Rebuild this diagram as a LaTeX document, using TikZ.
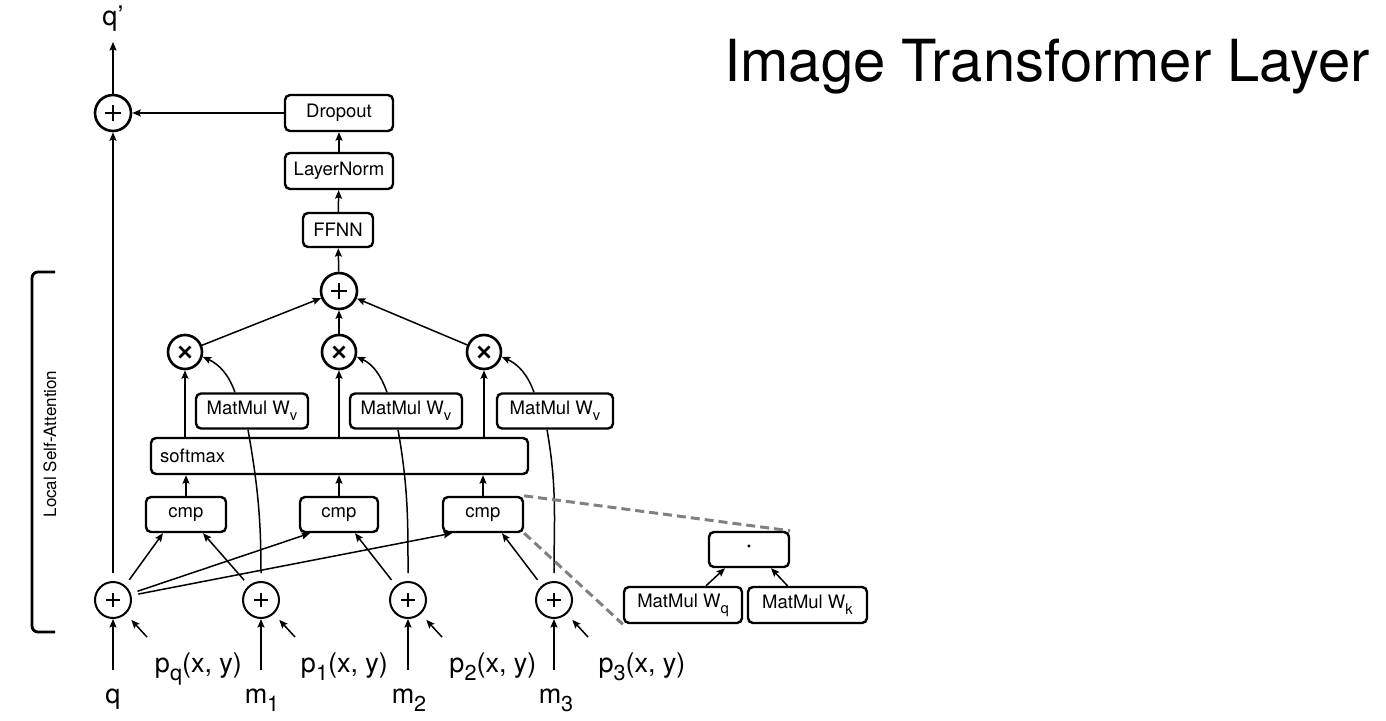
\documentclass[tikz,border=0pt]{standalone}
\usepackage{fontspec}
\setmainfont{TeX Gyre Heros}
\usepackage{graphicx}
\usetikzlibrary{arrows.meta}
\newcommand\lowsub[1]{\raisebox{-0.33em}{\scalebox{0.8}{#1}}}
\newcommand\fs[1]{\fontsize{#1}{#1}\selectfont}
\begin{document}
\begin{tikzpicture}[x=1pt,y=1pt,
  box/.style={draw, rounded corners=5pt, line width=2.4pt, inner sep=0pt, minimum height=36pt, font={\fs{18.5}}},
  bigcirc/.style={circle, draw, line width=2.6pt, minimum size=36pt, inner sep=0pt},
  plusbig/.style={bigcirc, path picture={\draw[line width=2.6pt] (path picture bounding box.center) ++(-8pt,0) -- ++(16pt,0) (path picture bounding box.center) ++(0,-8pt) -- ++(0,16pt);}},
  timesbig/.style={bigcirc, minimum size=34pt, path picture={\draw[line width=2.6pt] (path picture bounding box.center) ++(-5.5pt,-5.5pt) -- ++(11pt,11pt) (path picture bounding box.center) ++(-5.5pt,5.5pt) -- ++(11pt,-11pt);}},
  plussmall/.style={circle, draw, line width=2pt, minimum size=36pt, inner sep=0pt, path picture={\draw[line width=1.3pt] (path picture bounding box.center) ++(-7pt,0) -- ++(14pt,0) (path picture bounding box.center) ++(0,-7pt) -- ++(0,14pt);}},
  conn/.style={line width=1.5pt, -{Stealth[length=8.5pt,width=7pt,inset=1.5pt]}},
  plainline/.style={line width=1.5pt},
  grayd/.style={line width=3pt, draw=black!50, dash pattern=on 9pt off 5pt},
  lbl/.style={font={\fs{27}}, inner sep=0pt},
]
\useasboundingbox (0,-720) rectangle (1386,0);

% title and bracket
\node[font={\fs{58}}, anchor=base, inner sep=0pt] (title) at (1047,-81) {Image Transformer Layer};
\draw[line width=2.8pt, rounded corners=6pt] (55,-272) -- (32,-272) -- (32,-632) -- (55,-632);
\node[rotate=90, font={\fs{17}}, inner sep=0pt] (lsa) at (50,-444) {Local Self-Attention};

% upper part
\node[lbl, anchor=base] (qp) at (113,-25) {q’};
\coordinate (qpend) at (113,-42);
\node[plusbig] (top) at (113,-113) {};
\node[box, minimum width=108pt] (drop) at (339,-113) {Dropout};
\node[box, minimum width=108pt] (ln) at (339,-171) {LayerNorm};
\node[box, minimum width=70pt, minimum height=34pt] (ffnn) at (338,-230) {FFNN};
\node[plusbig] (sum) at (339,-291) {};
\node[timesbig] (t1) at (185,-352) {};
\node[timesbig] (t2) at (339,-352) {};
\node[timesbig] (t3) at (484,-352) {};
\node[box, minimum width=112pt, minimum height=35pt] (v1) at (252,-411) {MatMul W\lowsub{v}};
\node[box, minimum width=112pt, minimum height=35pt] (v2) at (406,-411) {MatMul W\lowsub{v}};
\node[box, minimum width=116pt, minimum height=35pt] (v3) at (555,-411) {MatMul W\lowsub{v}};
\node[box, minimum width=377pt, text width=359pt, align=left, inner xsep=9pt] (sm) at (339.5,-456) {softmax};
\node[box, minimum width=80pt, minimum height=35pt] (c1) at (186,-514.5) {cmp};
\node[box, minimum width=78pt, minimum height=35pt] (c2) at (339,-514.5) {cmp};
\node[box, minimum width=80pt, minimum height=35pt] (c3) at (483,-514.5) {cmp};

% lower plus nodes
\node[plussmall] (pq) at (113,-600) {};
\node[plussmall] (pm1) at (261,-600) {};
\node[plussmall] (pm2) at (408,-600) {};
\node[plussmall] (pm3) at (554,-600) {};

% labels
\node[lbl, anchor=base] (lq) at (113,-703) {q};
\node[lbl, anchor=base] (lm1) at (262,-703) {m\lowsub{1}};
\node[lbl, anchor=base] (lm2) at (409,-703) {m\lowsub{2}};
\node[lbl, anchor=base] (lm3) at (556,-703) {m\lowsub{3}};
\node[lbl, anchor=base] (lpq) at (198.5,-672) {p\lowsub{q}(x, y)};
\node[lbl, anchor=base] (lp1) at (344.5,-672) {p\lowsub{1}(x, y)};
\node[lbl, anchor=base] (lp2) at (493,-672) {p\lowsub{2}(x, y)};
\node[lbl, anchor=base] (lp3) at (642,-672) {p\lowsub{3}(x, y)};

% right detail
\node[box, minimum width=80pt, minimum height=35pt, font={\fs{28}}] (dot) at (749,-549.5) {·};
\node[box, minimum width=118pt] (wq) at (683,-605) {MatMul W\lowsub{q}};
\node[box, minimum width=119pt] (wk) at (807.5,-605) {MatMul W\lowsub{k}};

% input coordinates
\coordinate (qin) at (113,-670);
\coordinate (m1in) at (261,-670);
\coordinate (m2in) at (408,-670);
\coordinate (m3in) at (554,-670);
\coordinate (pqin) at (147,-637);
\coordinate (p1in) at (295,-637);
\coordinate (p2in) at (442,-637);
\coordinate (p3in) at (588,-637);

% connectors upper
\draw[conn] (top) -- (qpend);
\draw[conn] (drop) -- (top);
\draw[conn] (ln) -- (drop);
\draw[conn] (ffnn) -- (ln);
\draw[conn] (sum) -- (ffnn);
\draw[conn] (t1) -- (sum);
\draw[conn] (t2) -- (sum);
\draw[conn] (t3) -- (sum);
\draw[conn] (t1 |- sm.north) -- (t1);
\draw[conn] (t2 |- sm.north) -- (t2);
\draw[conn] (t3 |- sm.north) -- (t3);
\draw[conn] ([xshift=-17pt]v1.north) to[out=110,in=-25] (t1.-15);
\draw[conn] ([xshift=-19pt]v2.north) to[out=110,in=-25] (t2.-15);
\draw[conn] ([xshift=-21pt]v3.north) to[out=110,in=-25] (t3.-15);
\draw[conn] (c1) -- (c1 |- sm.south);
\draw[conn] (c2) -- (c2 |- sm.south);
\draw[conn] (c3) -- (c3 |- sm.south);

% connectors lower
\draw[conn, shorten <=8pt] (pq) -- (top);
\draw[plainline, shorten <=8pt] (pm1.north) to[out=90,in=-80] ([xshift=-4pt]v1.south);
\draw[plainline, shorten <=8pt] (pm2.north) to[out=90,in=-80] ([xshift=-8pt]v2.south);
\draw[plainline, shorten <=8pt] (pm3.north) to[out=90,in=-80] ([xshift=-8pt]v3.south);
\draw[conn, shorten <=7pt] (pq.50) -- ([xshift=-23pt]c1.south);
\draw[conn, shorten <=7pt] (pq.20) -- ([xshift=-29pt]c2.south);
\draw[conn, shorten <=7pt] (pq.14) -- ([xshift=-31pt]c3.south);
\draw[conn, shorten <=7pt] (pm1.130) -- ([xshift=17pt]c1.south);
\draw[conn, shorten <=7pt] (pm2.130) -- ([xshift=16pt]c2.south);
\draw[conn, shorten <=7pt] (pm3.130) -- ([xshift=19pt]c3.south);

% inputs
\draw[conn] (qin) -- (pq);
\draw[conn] (m1in) -- (pm1);
\draw[conn] (m2in) -- (pm2);
\draw[conn] (m3in) -- (pm3);
\draw[conn, shorten >=8pt] (pqin) -- (pq);
\draw[conn, shorten >=8pt] (p1in) -- (pm1);
\draw[conn, shorten >=8pt] (p2in) -- (pm2);
\draw[conn, shorten >=8pt] (p3in) -- (pm3);

% detail
\draw[conn] ([xshift=23pt]wq.north) -- ([xshift=-24pt]dot.south);
\draw[conn] ([xshift=-20pt]wk.north) -- ([xshift=22pt]dot.south);
\draw[grayd] (c3.north east) -- (dot.north east);
\draw[grayd] (c3.south east) -- (wq.south west);
\end{tikzpicture}
\end{document}
